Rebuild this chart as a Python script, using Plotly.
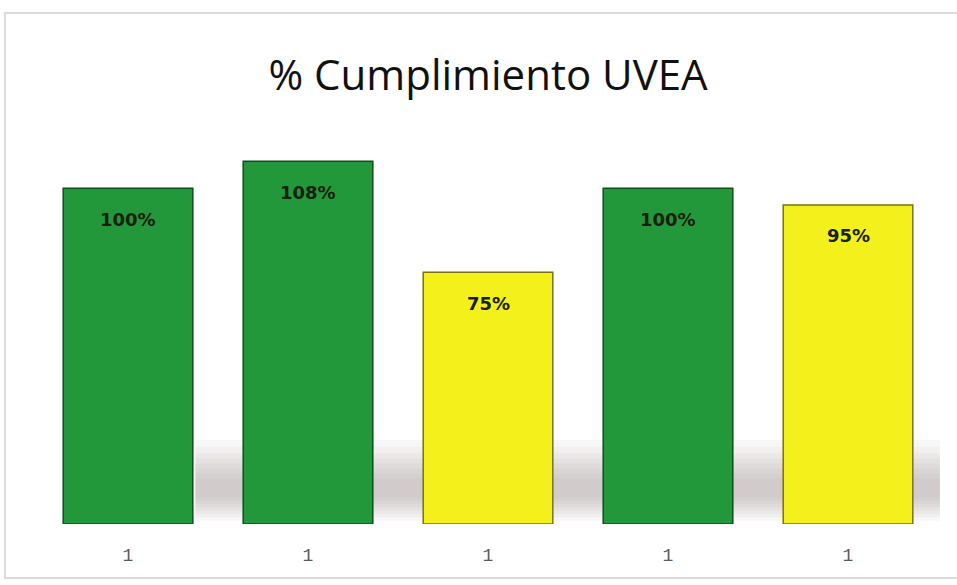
import plotly.graph_objects as go

# datos
posiciones = [0, 1, 2, 3, 4]
etiquetas_eje = ["1", "1", "1", "1", "1"]
cumplimiento = [100, 108, 75, 100, 95]
colores = ["#23983a", "#23983a", "#f3f01c", "#23983a", "#f3f01c"]
bordes = ["#0f4f1c", "#0f4f1c", "#77730f", "#0f4f1c", "#77730f"]

fig = go.Figure(
    go.Bar(
        x=posiciones,
        y=cumplimiento,
        width=0.72,
        marker=dict(color=colores, line=dict(color=bordes, width=1.5)),
        hoverinfo="skip",
    )
)

# etiquetas de valor dentro de la barra, cerca del extremo superior
for xp, v in zip(posiciones, cumplimiento):
    fig.add_annotation(
        x=xp, y=v, yshift=-31, text=f"{v}%", showarrow=False,
        font=dict(family="DejaVu Sans", size=18, color="#17200f", weight="bold"),
    )

# sombra difusa detrás de las barras (bandas superpuestas)
sombra = []
for y0, y1 in [(1, 25), (2, 23), (3, 21), (4, 19.5), (5, 18), (6, 16.5), (7, 15), (8, 13.5)]:
    sombra.append(dict(
        type="rect", xref="paper", yref="y",
        x0=0.175, x1=1.002, y0=y0, y1=y1,
        fillcolor="rgba(150,140,135,0.07)", line_width=0, layer="below",
    ))

fig.update_layout(
    width=957,
    height=585,
    paper_bgcolor="white",
    plot_bgcolor="white",
    showlegend=False,
    margin=dict(l=38, r=19, t=121, b=61),
    title=dict(
        text="% Cumplimiento UVEA",
        x=0.51,
        xanchor="center",
        y=0.872,
        yanchor="middle",
        font=dict(family="Open Sans", size=42, color="#111111"),
    ),
    shapes=[
        # marco del gráfico (el borde derecho queda fuera de la imagen)
        dict(
            type="rect", xref="paper", yref="paper",
            x0=-0.0367, x1=1.1, y0=-0.134, y1=1.268,
            line=dict(color="#d0d0d0", width=1.5),
        ),
    ] + sombra,
)

fig.update_xaxes(
    tickmode="array",
    tickvals=posiciones,
    ticktext=etiquetas_eje,
    range=[-0.5, 4.5],
    showgrid=False,
    showline=False,
    zeroline=False,
    ticks="",
    ticklabelstandoff=18,
    tickfont=dict(family="Liberation Mono", size=18, color="#5a5a5a"),
)
fig.update_yaxes(range=[0, 120], visible=False)

fig.write_html(
    "out.html",
    config={"displayModeBar": False},
    post_script="document.body.style.margin='0';",
)
